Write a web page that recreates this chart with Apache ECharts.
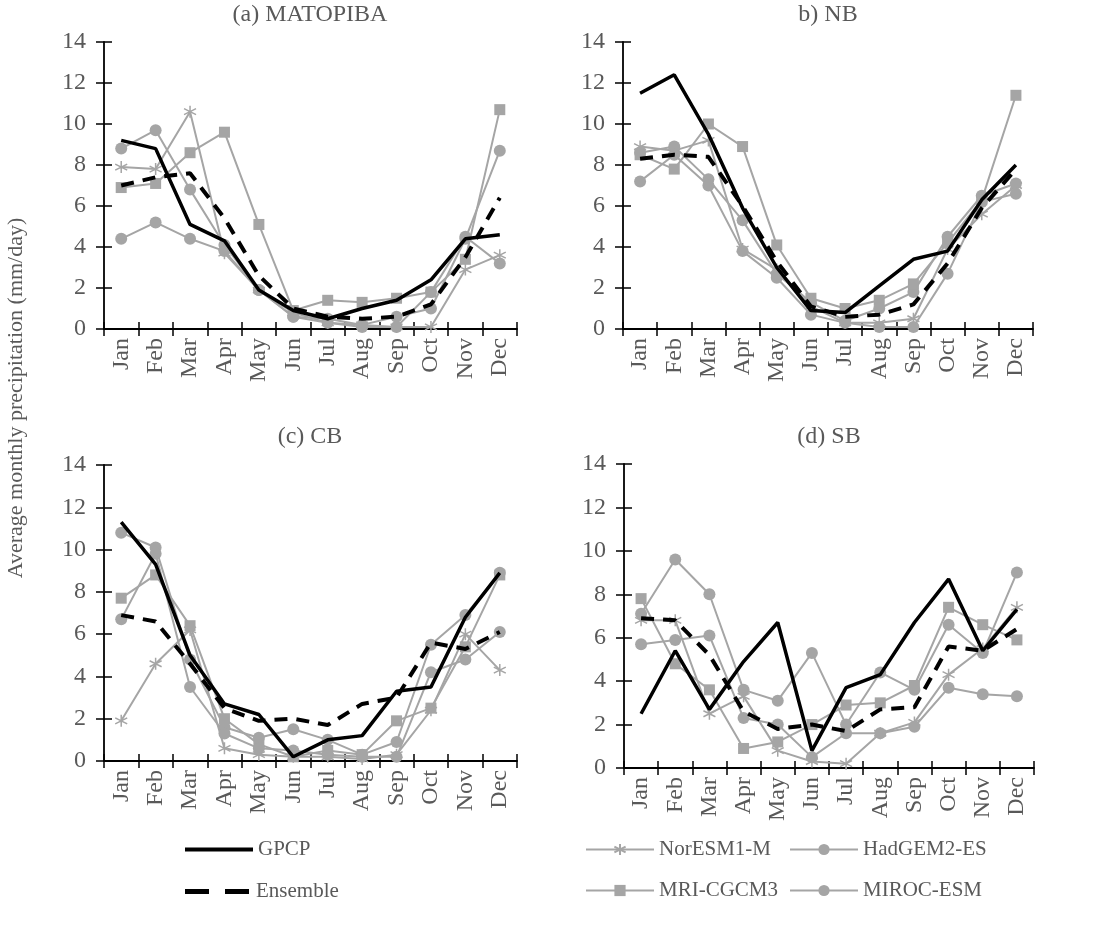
<!DOCTYPE html>
<html>
<head>
<meta charset="utf-8">
<script src="https://cdn.jsdelivr.net/npm/echarts@6/dist/echarts.min.js"></script>
<style>html,body{margin:0;padding:0;background:#fff;}#c{width:1095px;height:926px;}</style>
</head>
<body>
<div id="c"></div>
<script>
const months = ['Jan','Feb','Mar','Apr','May','Jun','Jul','Aug','Sep','Oct','Nov','Dec'];
const yTicks = [0, 2, 4, 6, 8, 10, 12, 14];
const panelTitles = ['(a) MATOPIBA', 'b) NB', '(c) CB', '(d) SB'];
const seriesNames = ['NorESM1-M', 'HadGEM2-ES', 'MRI-CGCM3', 'MIROC-ESM', 'Ensemble', 'GPCP'];

// Panel (a) MATOPIBA
const a_GPCP     = [9.2, 8.8, 5.1, 4.3, 1.9, 0.9, 0.5, 1.0, 1.4, 2.4, 4.4, 4.6];
const a_Ensemble = [7.0, 7.4, 7.6, 5.4, 2.6, 1.0, 0.6, 0.5, 0.6, 1.2, 3.5, 6.4];
const a_NorESM   = [7.9, 7.8, 10.6, 3.7, 1.9, 0.8, 0.3, 0.2, 0.1, 0.1, 2.9, 3.6];
const a_HadGEM   = [8.8, 9.7, 6.8, 4.1, 1.9, 0.6, 0.5, 0.2, 0.6, 1.0, 4.4, 8.7];
const a_MRI      = [6.9, 7.1, 8.6, 9.6, 5.1, 0.9, 1.4, 1.3, 1.5, 1.8, 3.4, 10.7];
const a_MIROC    = [4.4, 5.2, 4.4, 3.8, 1.9, 0.6, 0.3, 0.1, 0.1, 1.8, 4.5, 3.2];

// Panel (b) NB
const b_GPCP     = [11.5, 12.4, 9.5, 5.9, 3.0, 0.9, 0.8, 2.1, 3.4, 3.8, 6.3, 8.0];
const b_Ensemble = [8.3, 8.5, 8.4, 6.0, 3.3, 1.1, 0.6, 0.7, 1.2, 3.2, 5.9, 7.8];
const b_NorESM   = [8.9, 8.7, 9.2, 3.9, 2.9, 1.1, 0.3, 0.3, 0.5, 3.9, 5.6, 7.0];
const b_HadGEM   = [8.6, 8.9, 7.3, 5.3, 2.7, 1.3, 0.4, 1.0, 1.8, 4.5, 6.5, 7.1];
const b_MRI      = [8.5, 7.8, 10.0, 8.9, 4.1, 1.5, 1.0, 1.4, 2.2, 4.2, 6.3, 11.4];
const b_MIROC    = [7.2, 8.5, 7.0, 3.8, 2.5, 0.7, 0.3, 0.1, 0.1, 2.7, 6.2, 6.6];

// Panel (c) CB
const c_GPCP     = [11.3, 9.3, 5.0, 2.7, 2.2, 0.2, 1.0, 1.2, 3.3, 3.5, 6.8, 8.9];
const c_Ensemble = [6.9, 6.6, 4.6, 2.5, 1.9, 2.0, 1.7, 2.7, 3.0, 5.6, 5.3, 6.1];
const c_NorESM   = [1.9, 4.6, 6.2, 0.6, 0.3, 0.2, 0.2, 0.1, 0.3, 2.4, 6.0, 4.3];
const c_HadGEM   = [10.8, 10.1, 4.8, 1.6, 1.1, 1.5, 1.0, 0.3, 0.9, 5.5, 6.9, 8.9];
const c_MRI      = [7.7, 8.8, 6.4, 2.0, 0.8, 0.2, 0.5, 0.3, 1.9, 2.5, 5.4, 8.8];
const c_MIROC    = [6.7, 9.8, 3.5, 1.3, 0.6, 0.5, 0.3, 0.2, 0.2, 4.2, 4.8, 6.1];

// Panel (d) SB
const d_GPCP     = [2.5, 5.4, 2.7, 4.9, 6.7, 0.8, 3.7, 4.3, 6.7, 8.7, 5.4, 7.3];
const d_Ensemble = [6.9, 6.8, 5.2, 2.6, 1.8, 2.0, 1.7, 2.7, 2.8, 5.6, 5.4, 6.4];
const d_NorESM   = [6.8, 6.8, 2.5, 3.3, 0.8, 0.3, 0.2, 1.6, 2.1, 4.3, 5.5, 7.4];
const d_HadGEM   = [7.1, 9.6, 8.0, 3.6, 3.1, 5.3, 2.0, 4.4, 3.6, 6.6, 5.3, 9.0];
const d_MRI      = [7.8, 4.8, 3.6, 0.9, 1.2, 2.0, 2.9, 3.0, 3.8, 7.4, 6.6, 5.9];
const d_MIROC    = [5.7, 5.9, 6.1, 2.3, 2.0, 0.5, 1.6, 1.6, 1.9, 3.7, 3.4, 3.3];

const panels = [
  {NorESM: a_NorESM, HadGEM: a_HadGEM, MRI: a_MRI, MIROC: a_MIROC, Ensemble: a_Ensemble, GPCP: a_GPCP},
  {NorESM: b_NorESM, HadGEM: b_HadGEM, MRI: b_MRI, MIROC: b_MIROC, Ensemble: b_Ensemble, GPCP: b_GPCP},
  {NorESM: c_NorESM, HadGEM: c_HadGEM, MRI: c_MRI, MIROC: c_MIROC, Ensemble: c_Ensemble, GPCP: c_GPCP},
  {NorESM: d_NorESM, HadGEM: d_HadGEM, MRI: d_MRI, MIROC: d_MIROC, Ensemble: d_Ensemble, GPCP: d_GPCP}
];

const FONT = '"Liberation Serif", "Times New Roman", serif';
const FS = 24;
const LFS = 21;
const TXT = '#595959';
const GRAY = '#A5A5A5';
const ASTER = 'path://M0,-5L0,5M-4.33,-2.5L4.33,2.5M-4.33,2.5L4.33,-2.5';

const grids = [
  {left: 104, top: 42, width: 413, height: 287},
  {left: 623, top: 42, width: 410, height: 287},
  {left: 104, top: 465, width: 413, height: 296},
  {left: 624, top: 464, width: 410, height: 304}
];

const xAxes = [], yAxes = [], series = [];
grids.forEach((g, i) => {
  xAxes.push({
    type: 'category', gridIndex: i, data: months, position: 'bottom', boundaryGap: true,
    axisLine: {onZero: false, lineStyle: {color: '#000', width: 1.8}},
    axisTick: {show: true, inside: false, length: 7, lineStyle: {color: '#000', width: 1.5}},
    axisLabel: {rotate: 90, interval: 0, color: TXT, fontFamily: FONT, fontSize: FS, margin: 9},
    splitLine: {show: false}
  });
  xAxes.push({
    type: 'category', gridIndex: i, data: months, position: 'bottom', boundaryGap: true,
    axisLine: {show: false, onZero: false},
    axisTick: {show: true, inside: true, length: 7, lineStyle: {color: '#000', width: 1.5}},
    axisLabel: {show: false}, splitLine: {show: false}
  });
  yAxes.push({
    type: 'value', gridIndex: i, min: 0, max: 14, interval: 2, position: 'left',
    axisLine: {show: true, onZero: false, lineStyle: {color: '#000', width: 1.8}},
    axisTick: {show: true, inside: false, length: 8, lineStyle: {color: '#000', width: 1.5}},
    axisLabel: {color: TXT, fontFamily: FONT, fontSize: FS, margin: 18},
    splitLine: {show: false}
  });
  yAxes.push({
    type: 'value', gridIndex: i, min: 0, max: 14, interval: 2, position: 'left',
    axisLine: {show: false, onZero: false},
    axisTick: {show: true, inside: true, length: 8, lineStyle: {color: '#000', width: 1.5}},
    axisLabel: {show: false}, splitLine: {show: false}
  });

  const p = panels[i];
  const common = {type: 'line', xAxisIndex: 2 * i, yAxisIndex: 2 * i, animation: false, showAllSymbol: true};
  series.push(Object.assign({}, common, {name: 'NorESM1-M', data: p.NorESM, symbol: ASTER, symbolSize: 12,
    lineStyle: {color: GRAY, width: 2}, itemStyle: {color: GRAY, borderColor: GRAY, borderWidth: 1.5}, z: 2}));
  series.push(Object.assign({}, common, {name: 'HadGEM2-ES', data: p.HadGEM, symbol: 'circle', symbolSize: 12,
    lineStyle: {color: GRAY, width: 2}, itemStyle: {color: GRAY}, z: 2}));
  series.push(Object.assign({}, common, {name: 'MRI-CGCM3', data: p.MRI, symbol: 'rect', symbolSize: 11,
    lineStyle: {color: GRAY, width: 2}, itemStyle: {color: GRAY}, z: 2}));
  series.push(Object.assign({}, common, {name: 'MIROC-ESM', data: p.MIROC, symbol: 'circle', symbolSize: 12,
    lineStyle: {color: GRAY, width: 2}, itemStyle: {color: GRAY}, z: 2}));
  series.push(Object.assign({}, common, {name: 'Ensemble', data: p.Ensemble, symbol: 'none',
    lineStyle: {color: '#000', width: 4, type: [13, 9]}, itemStyle: {color: '#000'}, z: 3}));
  series.push(Object.assign({}, common, {name: 'GPCP', data: p.GPCP, symbol: 'none',
    lineStyle: {color: '#000', width: 3.5}, itemStyle: {color: '#000'}, z: 4}));
});

function leg(name, left, top, icon, h) {
  const item = icon ? {name: name, icon: icon} : name;
  return {
    data: [item], left: left, top: top, orient: 'horizontal',
    itemWidth: 68, itemHeight: h || 14, itemGap: 0, selectedMode: false,
    textStyle: {color: TXT, fontFamily: FONT, fontSize: LFS, padding: [0, 0, 0, 0]}
  };
}

const DASH2 = 'path://M0,0h24v5h-24zM40,0h24v5h-24z';
const legends = [
  leg('GPCP', 180, 834, 'rect', 4),
  leg('Ensemble', 180, 876, DASH2, 5),
  leg('NorESM1-M', 580, 834),
  leg('HadGEM2-ES', 784, 834),
  leg('MRI-CGCM3', 580, 875),
  leg('MIROC-ESM', 784, 875)
];

const titleCenters = [[310, 15], [828, 15], [310, 437], [829, 437]];
const graphics = panelTitles.map((t, i) => ({
  type: 'text', x: titleCenters[i][0], y: titleCenters[i][1],
  style: {text: t, fill: TXT, font: FS + 'px ' + FONT, textAlign: 'center', textVerticalAlign: 'middle'}
}));
graphics.push({
  type: 'text', x: 16, y: 398, rotation: Math.PI / 2,
  style: {text: 'Average monthly precipitation (mm/day)', fill: TXT, font: '22px ' + FONT,
          textAlign: 'center', textVerticalAlign: 'middle'}
});

const chart = echarts.init(document.getElementById('c'), null, {renderer: 'canvas'});
chart.setOption({
  backgroundColor: '#fff',
  animation: false,
  grid: grids,
  xAxis: xAxes,
  yAxis: yAxes,
  legend: legends,
  graphic: graphics,
  series: series
});
</script>
</body>
</html>
